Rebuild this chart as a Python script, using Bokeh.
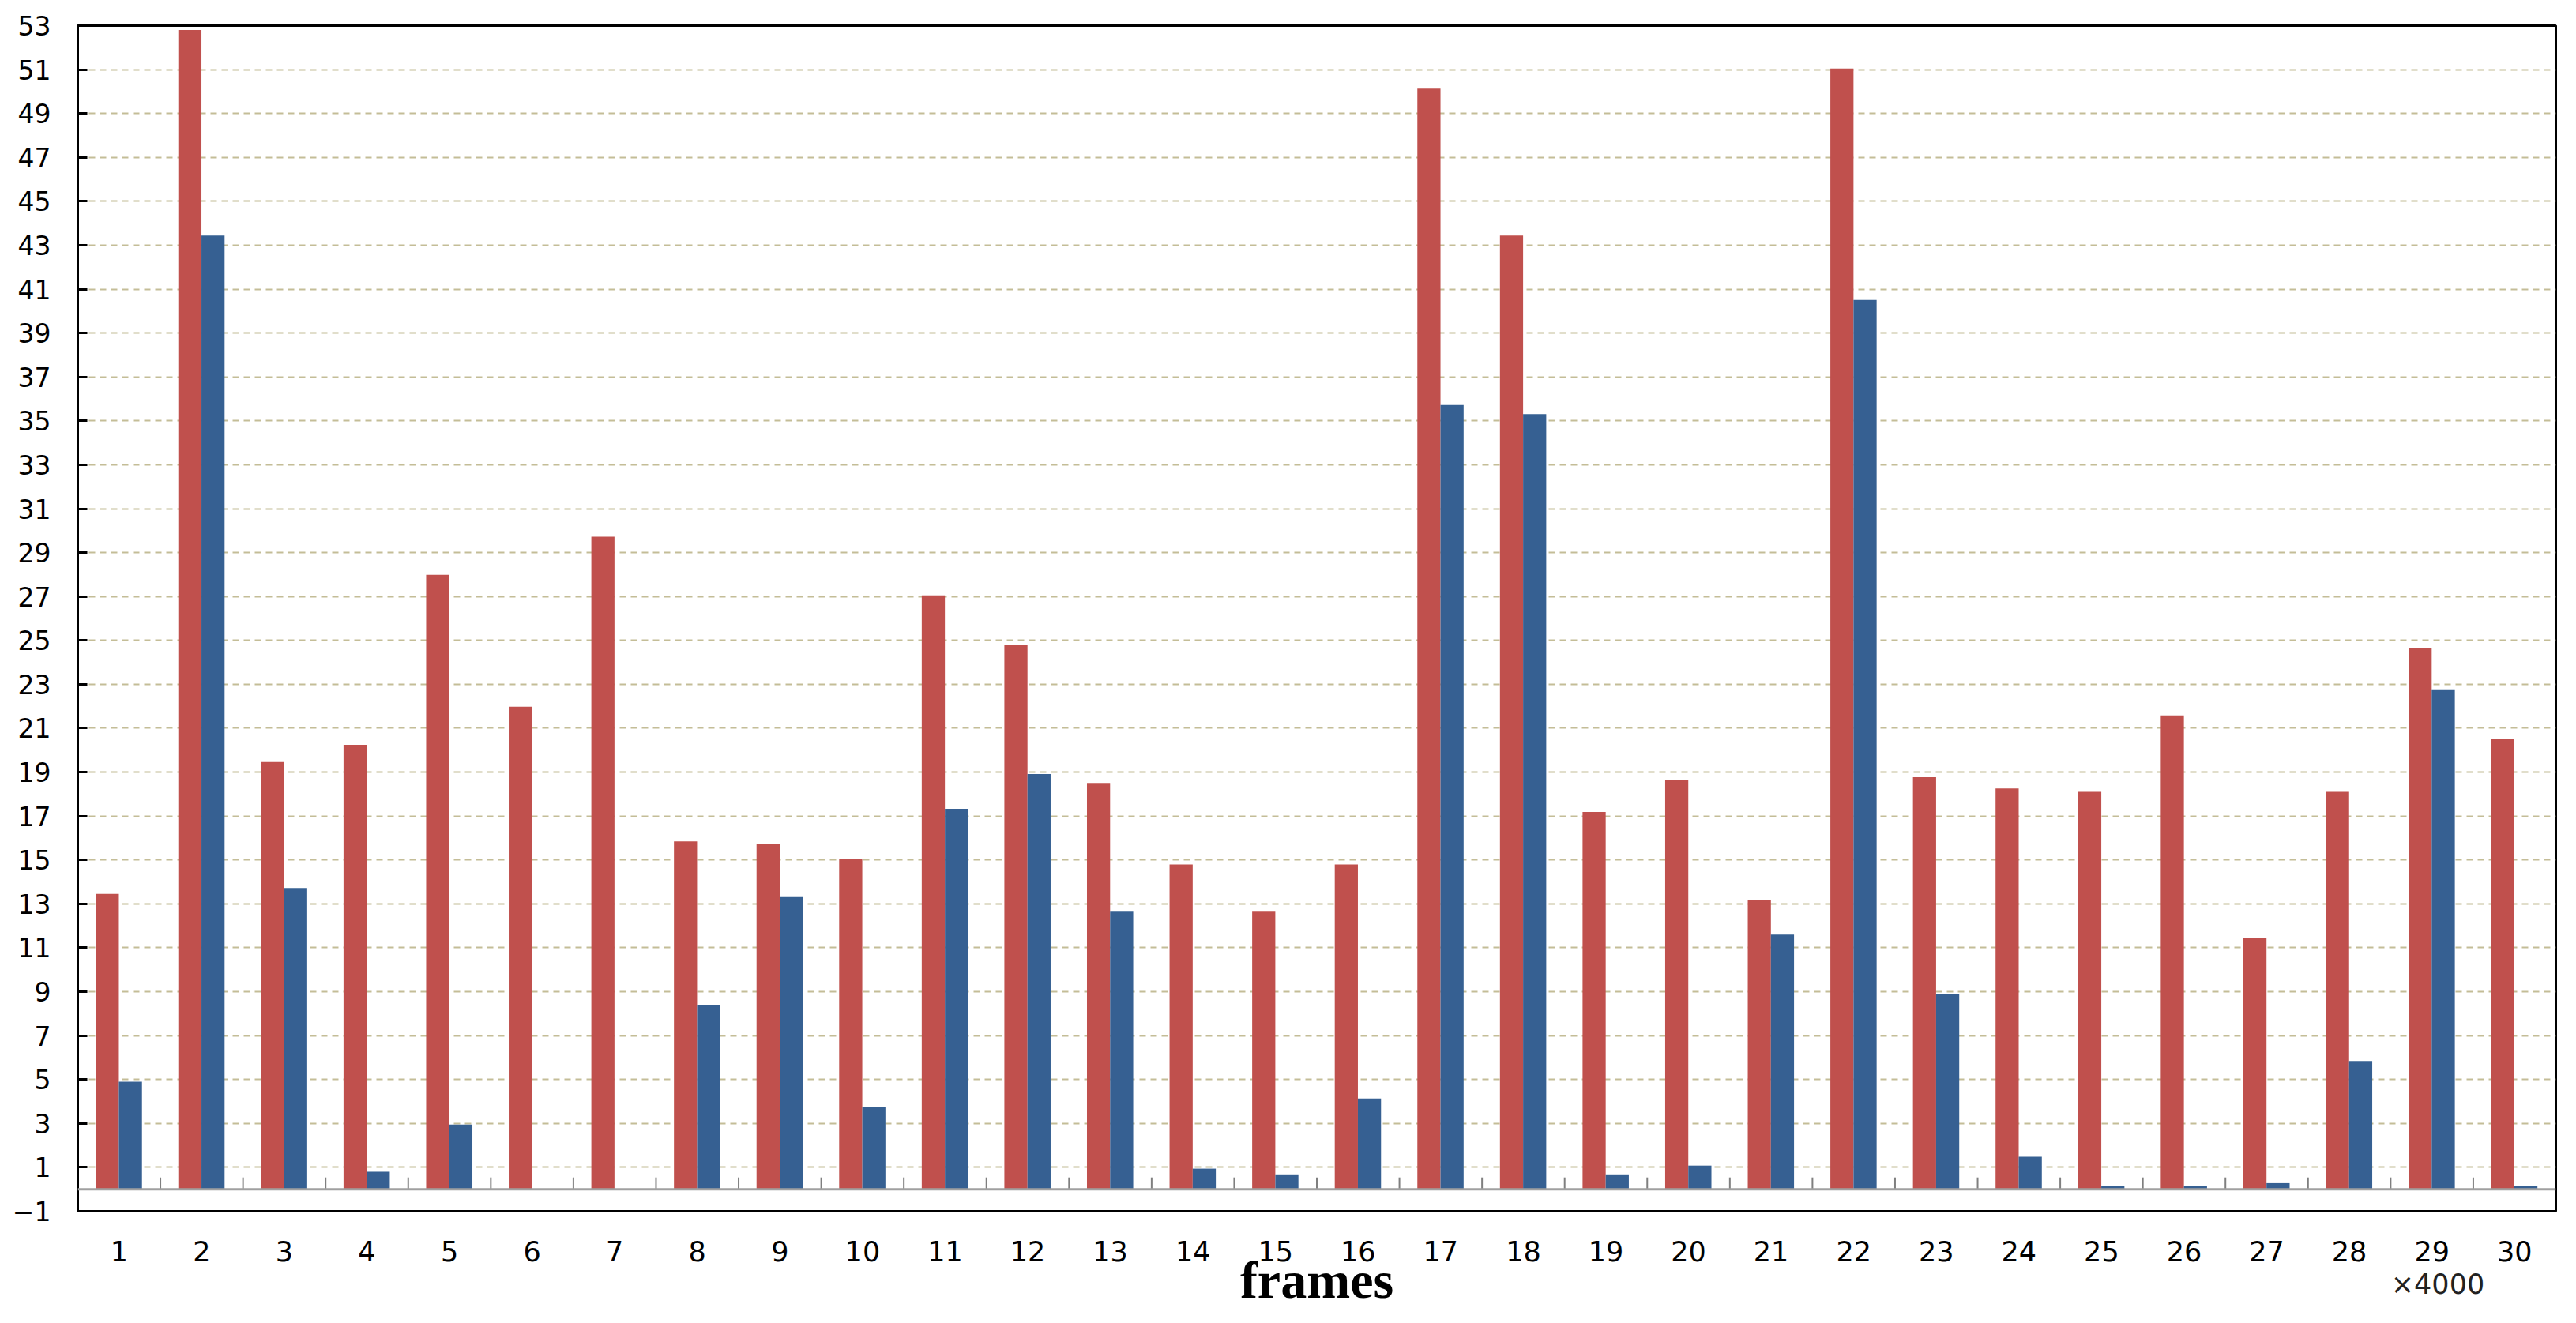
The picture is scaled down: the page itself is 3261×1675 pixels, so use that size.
from bokeh.plotting import figure
from bokeh.models import Range1d, FixedTicker, Span, LinearAxis, CustomJSTickFormatter
from bokeh.embed import file_html
from bokeh.resources import INLINE

# ---- data ----
categories = list(range(1, 31))
series_red = [13.45, 52.8, 19.46, 20.24, 27.99, 21.98, 29.72, 15.85, 15.72, 15.04,
              27.05, 24.8, 18.51, 14.79, 12.64, 14.79, 50.13, 43.44, 17.19, 18.65,
              13.19, 51.05, 18.77, 18.26, 18.1, 21.58, 11.44, 18.1, 24.64, 20.52]
series_blue = [4.9, 43.44, 13.72, 0.8, 2.95, 0.0, 0.0, 8.38, 13.31, 3.74,
               17.33, 18.91, 12.64, 0.94, 0.68, 4.14, 35.72, 35.31, 0.68, 1.08,
               11.6, 40.51, 8.91, 1.48, 0.15, 0.15, 0.28, 5.84, 22.77, 0.15]
y_tick_values = list(range(-1, 54, 2))
grid_values = list(range(1, 52, 2))
x_axis_title = "frames"
x_scale_note = "\u00d74000"
x_scale_note_position = 29.07

RED = "#C0504D"
BLUE = "#366092"

p = figure(width=3245, height=1659, output_backend="svg", toolbar_location=None,
           x_range=Range1d(0.5, 30.5), y_range=Range1d(-1, 53),
           min_border_left=98, min_border_right=10, min_border_top=32, min_border_bottom=126)
p.background_fill_color = "white"
p.border_fill_color = "white"
p.outline_line_color = "black"
p.outline_line_width = 3

# bars
red_x = [c - 0.143 for c in categories]
blue_x = [c + 0.137 for c in categories]
p.vbar(x=red_x, top=series_red, bottom=0, width=0.28, fill_color=RED, line_color=None)
p.vbar(x=blue_x, top=series_blue, bottom=0, width=0.28, fill_color=BLUE, line_color=None)

# zero baseline and category separator ticks
p.add_layout(Span(location=0, dimension="width", line_color="#a0a0a0", line_width=3))
bounds = [c + 0.5 for c in categories[:-1]]
p.segment(x0=bounds, x1=bounds, y0=[0] * len(bounds), y1=[0.54] * len(bounds),
          line_color="#7f7f7f", line_width=2)

# grid
p.xgrid.visible = False
p.ygrid.ticker = FixedTicker(ticks=grid_values)
p.ygrid.grid_line_color = "#c4bd97"
p.ygrid.grid_line_width = 2
p.ygrid.grid_line_dash = "8 6"

# y axis
ya = p.yaxis[0]
ya.ticker = FixedTicker(ticks=y_tick_values)
ya.axis_line_color = "black"
ya.axis_line_width = 3
ya.major_tick_in = 12
ya.major_tick_out = 0
ya.major_tick_line_color = "black"
ya.major_tick_line_width = 3
ya.minor_tick_line_color = None
ya.major_label_text_font = "DejaVu Sans"
ya.major_label_text_font_size = "33px"
ya.major_label_text_color = "black"
ya.major_label_standoff = 34

# x axis (category numbers)
xa = p.xaxis[0]
xa.ticker = FixedTicker(ticks=categories)
xa.axis_line_color = None
xa.major_tick_line_color = None
xa.minor_tick_line_color = None
xa.major_label_text_font = "DejaVu Sans"
xa.major_label_text_font_size = "35px"
xa.major_label_text_color = "black"
xa.major_label_standoff = 31

# second bottom axis: multiplier note as its single tick label, title as its axis label
xa2 = LinearAxis(ticker=FixedTicker(ticks=[x_scale_note_position]),
                 formatter=CustomJSTickFormatter(code='return "%s";' % x_scale_note))
xa2.axis_line_color = None
xa2.major_tick_line_color = None
xa2.minor_tick_line_color = None
xa2.major_label_standoff = 0
xa2.major_label_text_font = "DejaVu Sans"
xa2.major_label_text_font_size = "35px"
xa2.major_label_text_color = "#222222"
xa2.axis_label = x_axis_title
xa2.axis_label_text_font = "Liberation Serif"
xa2.axis_label_text_font_style = "bold"
xa2.axis_label_text_font_size = "66px"
xa2.axis_label_text_color = "black"
xa2.axis_label_standoff = -65
p.add_layout(xa2, "below")

open("out.html", "w").write(file_html(p, INLINE))
